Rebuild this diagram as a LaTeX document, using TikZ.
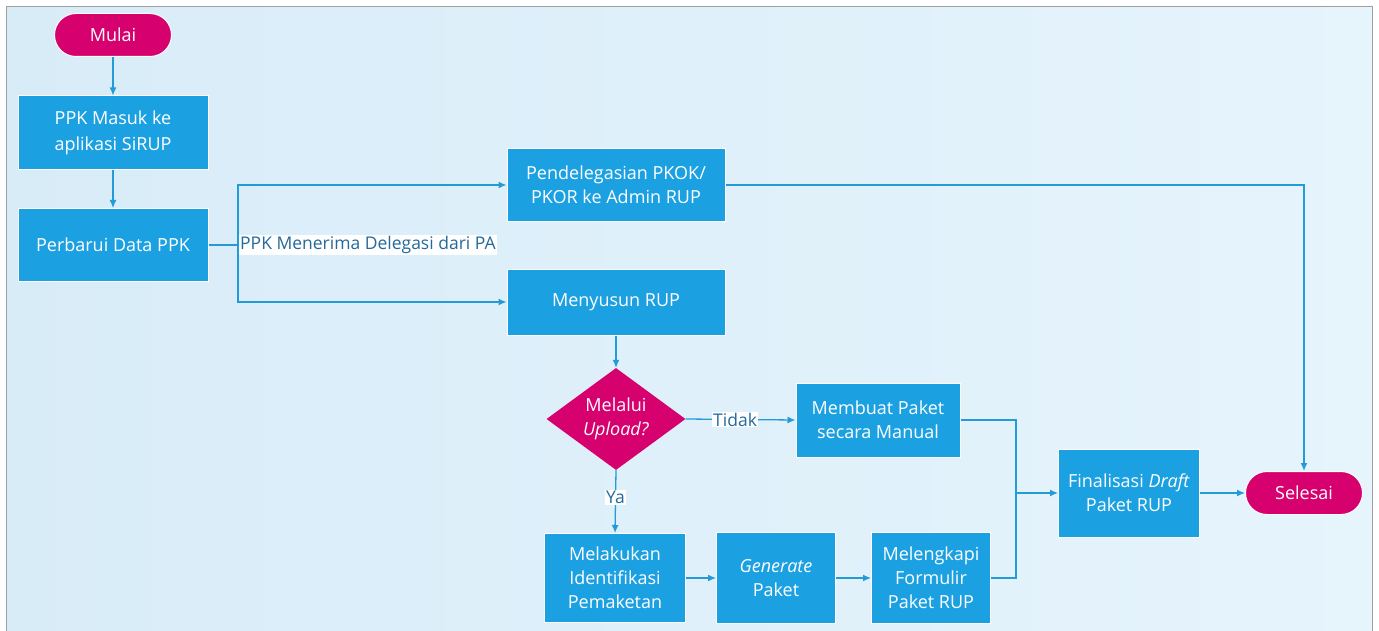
\documentclass[tikz,border=0pt]{standalone}
\usepackage{fontspec}
\setmainfont{Open Sans}
\usetikzlibrary{shapes.geometric,arrows.meta}
\definecolor{boxblue}{RGB}{27,161,226}
\definecolor{mag}{RGB}{214,0,110}
\definecolor{linec}{RGB}{35,155,215}
\definecolor{lbl}{RGB}{36,105,155}
\definecolor{bgA}{RGB}{216,236,248}
\definecolor{bgB}{RGB}{230,244,252}
\definecolor{frame}{RGB}{160,160,160}
\begin{document}
\begin{tikzpicture}[x=1pt,y=-1pt,
  base/.style={text=white,align=center,inner sep=0pt,font=\fontsize{18}{24}\selectfont},
  proc/.style={base,rectangle,draw=white,line width=1pt,fill=boxblue},
  term/.style={base,rectangle,rounded corners=21.5pt,draw=white,line width=1pt,fill=mag,minimum width=117pt,minimum height=43pt},
  dec/.style={base,diamond,fill=mag,minimum width=139pt,minimum height=102pt,aspect=1.36},
  conn/.style={draw=linec,line width=1.3pt,-{Latex[length=8pt,width=7pt]}},
  plain/.style={draw=linec,line width=1.3pt},
  lab/.style={fill=white,text=lbl,inner sep=1pt,font=\fontsize{17.5}{20}\selectfont}]
\useasboundingbox (0,0) rectangle (1379,631);
\fill[white] (0,0) rectangle (1379,631);
\shade[left color=bgA,right color=bgB] (6,7) rectangle (1372,631);
\draw[frame,line width=1pt] (6,640) -- (6,7) -- (1372,7) -- (1372,640);

\node[term] (mulai) at (113,35) {Mulai};
\node[proc,minimum width=190pt,minimum height=74pt,font=\fontsize{18}{26}\selectfont] (masuk) at (113,133) {PPK Masuk ke\\aplikasi SiRUP};
\node[proc,minimum width=190pt,minimum height=73pt] (perbarui) at (113,245) {Perbarui Data PPK};
\node[proc,minimum width=218pt,minimum height=73pt] (deleg) at (616,185) {Pendelegasian PKOK/\\PKOR ke Admin RUP};
\node[proc,minimum width=218pt,minimum height=66pt] (susun) at (616,302) {Menyusun RUP};
\node[dec] (upload) at (616,419) {Melalui\\\textit{Upload?}};
\node[proc,minimum width=164pt,minimum height=74pt] (manual) at (878,420) {Membuat Paket\\secara Manual};
\node[proc,minimum width=141pt,minimum height=89pt] (identif) at (615,578) {Melakukan\\Identifikasi\\Pemaketan};
\node[proc,minimum width=119pt,minimum height=91pt] (gen) at (776,578) {\textit{Generate}\\Paket};
\node[proc,minimum width=119pt,minimum height=91pt] (lengkap) at (931,578) {Melengkapi\\Formulir\\Paket RUP};
\node[proc,minimum width=141pt,minimum height=88pt] (final) at (1129,493) {Finalisasi \textit{Draft}\\Paket RUP};
\node[term] (selesai) at (1304,493) {Selesai};

\coordinate (split) at (238,245);
\coordinate (merge) at (1016,493);

\draw[conn] (mulai) -- (masuk);
\draw[conn] (masuk) -- (perbarui);
\draw[plain] (perbarui.east) -- (split);
\draw[conn] (split) |- (deleg.west);
\draw[conn] (split) |- (susun.west);
\node[lab,anchor=west] (lbldeleg) at (239,245) {PPK Menerima Delegasi dari PA};
\draw[conn] (deleg.east) -| (selesai.north);
\draw[conn] (susun) -- (upload);
\draw[conn] (upload.east) -- node[lab,pos=0.45] (ltidak) {Tidak} (manual.west);
\draw[conn] (upload.south) -- node[lab,pos=0.43] (lya) {Ya} (identif.north);
\draw[conn] (identif) -- (gen);
\draw[conn] (gen) -- (lengkap);
\draw[plain] (manual.east) -| (merge);
\draw[plain] (lengkap.east) -| (merge);
\draw[conn] (merge) -- (final.west);
\draw[conn] (final) -- (selesai);
\end{tikzpicture}
\end{document}
